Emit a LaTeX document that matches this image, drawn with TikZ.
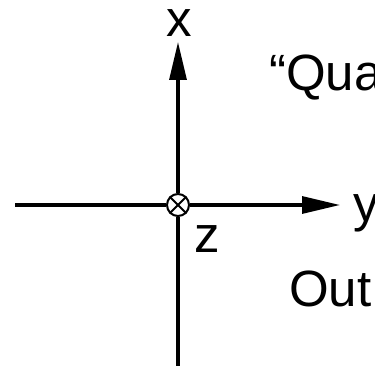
\documentclass[tikz,border=0pt]{standalone}
\usepackage{fontspec}
\setmainfont{Liberation Sans}
\usetikzlibrary{arrows.meta}
\tikzset{
    axis/.style={line width=3.2pt, -{Triangle[length=38pt,width=17pt]}},
    lbl/.style={inner sep=0pt, anchor=base west, font=\fontsize{51}{56}\selectfont},
    into/.style={circle, draw, line width=2pt, fill=white, minimum size=22pt, inner sep=0pt}
}
\begin{document}
\begin{tikzpicture}[x=1pt, y=-1pt]
    \clip (0,0) rectangle (375,366);

    % Origin (z into the page)
    \node[into] (o) at (178,205) {};
    \coordinate (xtip) at (178,42);
    \coordinate (ytip) at (340,205);
    \coordinate (xbot) at (178,370);
    \coordinate (yleft) at (15,205);

    % Axes
    \draw[line width=3.2pt] (yleft) -- (o.west);
    \draw[line width=3.2pt] (xbot) -- (o.south);
    \draw[axis] (o.north) -- (xtip);
    \draw[axis] (o.east) -- (ytip);
    \draw[line width=1.8pt] (o.north west) -- (o.south east);
    \draw[line width=1.8pt] (o.north east) -- (o.south west);

    % Labels
    \node[lbl, anchor=base] (xl) at (179,37) {x};
    \node[lbl] (yl) at (353,222) {y};
    \node[lbl] (zl) at (194,253) {z};
    \node[lbl] (q) at (269,91) {“Qua};
    \node[lbl] (out) at (289,306) {Out};
\end{tikzpicture}
\end{document}
